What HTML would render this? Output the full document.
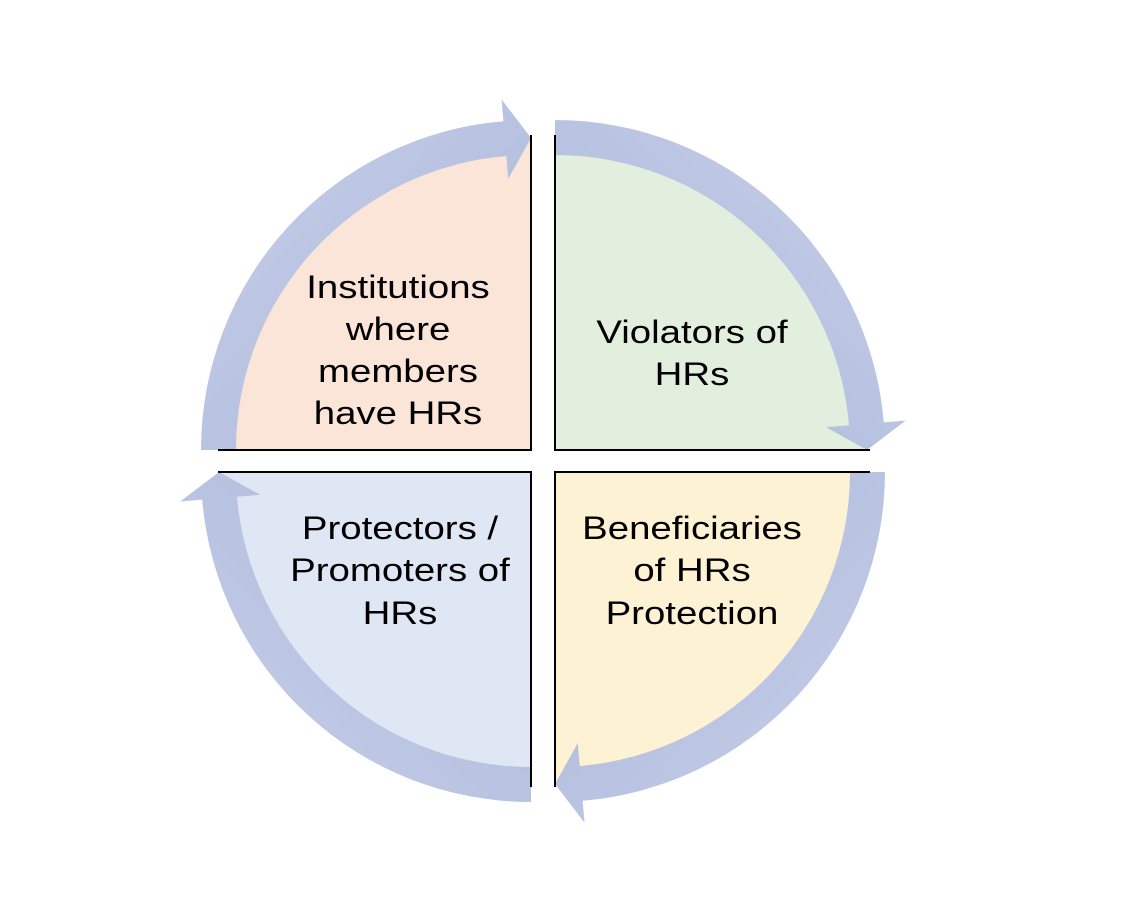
<!DOCTYPE html>
<html><head><meta charset="utf-8"><style>
html,body{margin:0;padding:0;background:#fff;}
svg{display:block;}
text{font-family:"Liberation Sans",sans-serif;font-size:32px;fill:#000;text-anchor:middle;transform-box:fill-box;transform-origin:center;transform:scaleX(1.2);}
</style></head><body>
<svg width="1126" height="906" viewBox="0 0 1126 906">
<defs>
<linearGradient id="g" x1="0" y1="0" x2="1" y2="1" gradientUnits="objectBoundingBox">
<stop offset="0" stop-color="#c8d1ea"/><stop offset="1" stop-color="#a9b5d9"/>
</linearGradient>
<path id="arr" fill="url(#g)" d="M -330 0 A 330 330 0 0 1 -27.6 -328.8 L -29.5 -350.8 L 0 -312 L -22.8 -271 L -24.7 -294 A 295 295 0 0 0 -295 0 Z"/>
</defs>
<path d="M531 450 L219 450 A312 312 0 0 1 531 138 Z" fill="#fbe5d9"/>
<path d="M555 450 L555 138 A312 312 0 0 1 867 450 Z" fill="#e3efde"/>
<path d="M555 472 L867 472 A312 312 0 0 1 555 784 Z" fill="#fef2d5"/>
<path d="M531 472 L531 784 A312 312 0 0 1 219 472 Z" fill="#dfe6f4"/>
<use href="#arr" transform="translate(531,450)"/>
<use href="#arr" transform="translate(555,450) rotate(90)"/>
<use href="#arr" transform="translate(555,472) rotate(180)"/>
<use href="#arr" transform="translate(531,472) rotate(270)"/>
<g stroke="#000" stroke-width="2" fill="none">
<path d="M531 135 L531 450 L218 450"/>
<path d="M555 135 L555 450 L870 450"/>
<path d="M870 472 L555 472 L555 787"/>
<path d="M531 787 L531 472 L218 472"/>
</g>
<text x="398" y="298">Institutions</text>
<text x="398" y="340">where</text>
<text x="398" y="382">members</text>
<text x="398" y="424">have HRs</text>
<text x="692" y="343">Violators of</text>
<text x="692" y="385">HRs</text>
<text x="692" y="539">Beneficiaries</text>
<text x="692" y="581">of HRs</text>
<text x="692" y="624">Protection</text>
<text x="400" y="539">Protectors /</text>
<text x="400" y="581">Promoters of</text>
<text x="400" y="624">HRs</text>
</svg>
</body></html>
